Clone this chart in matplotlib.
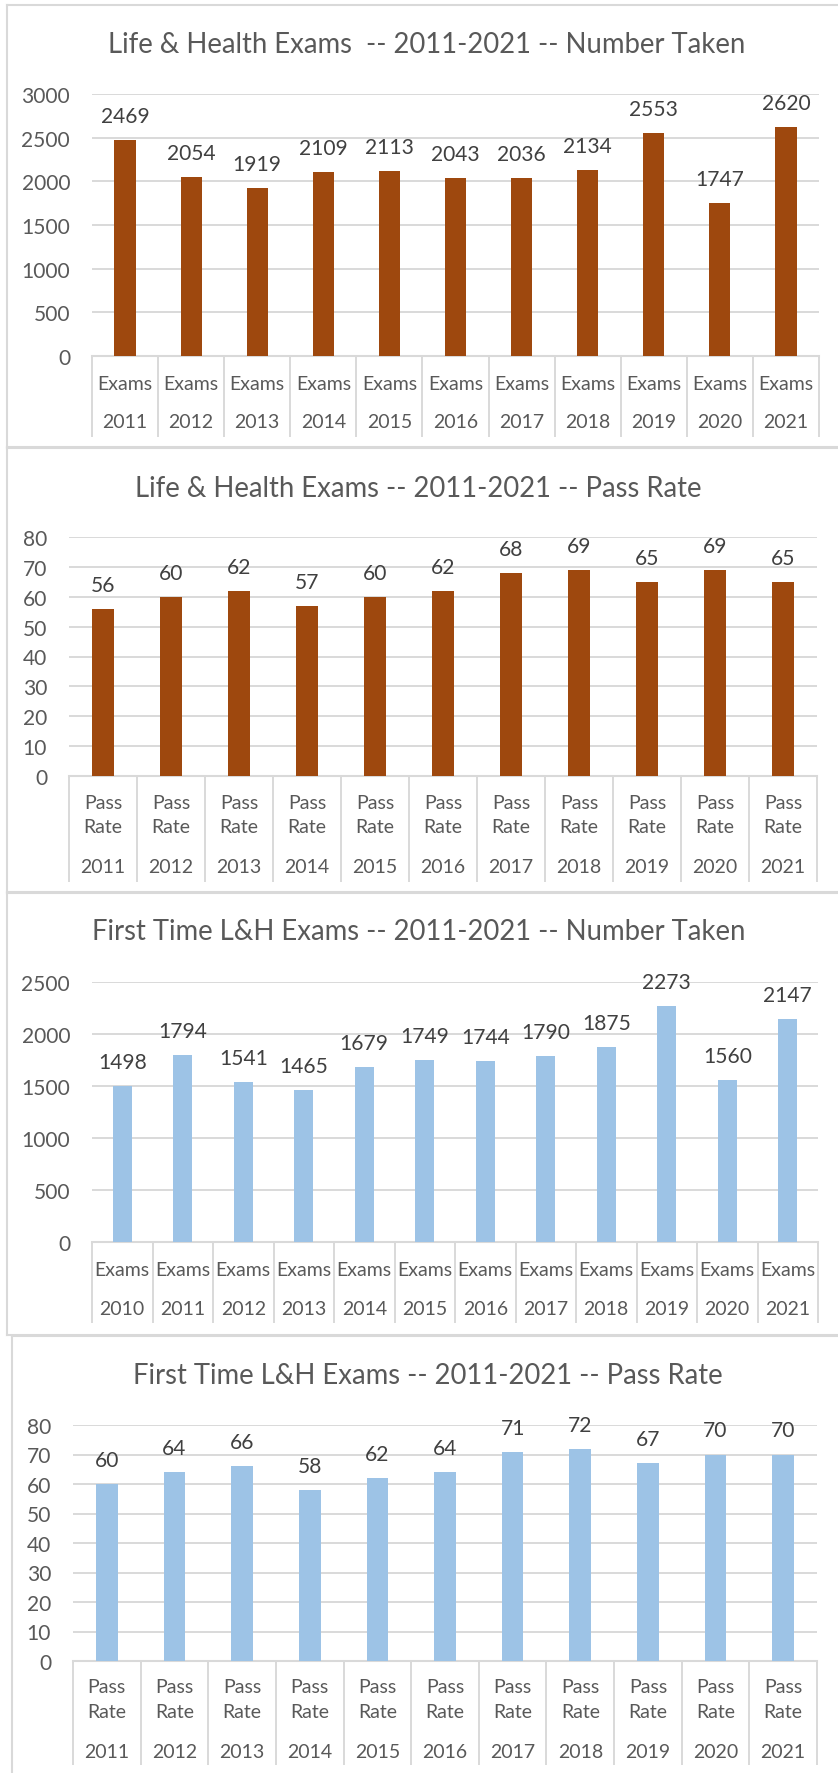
import matplotlib
matplotlib.use("Agg")
import matplotlib.pyplot as plt
from matplotlib.lines import Line2D
from matplotlib.transforms import blended_transform_factory

W, H = 838, 1774

lh_years = ["2011", "2012", "2013", "2014", "2015", "2016", "2017", "2018", "2019", "2020", "2021"]
lh_taken = [2469, 2054, 1919, 2109, 2113, 2043, 2036, 2134, 2553, 1747, 2620]
lh_pass = [56, 60, 62, 57, 60, 62, 68, 69, 65, 69, 65]

ft_taken_years = ["2010", "2011", "2012", "2013", "2014", "2015", "2016", "2017", "2018", "2019", "2020", "2021"]
ft_taken = [1498, 1794, 1541, 1465, 1679, 1749, 1744, 1790, 1875, 2273, 1560, 2147]
ft_pass_years = ["2011", "2012", "2013", "2014", "2015", "2016", "2017", "2018", "2019", "2020", "2021"]
ft_pass = [60, 64, 66, 58, 62, 64, 71, 72, 67, 70, 70]

brown = "#9E480E"
blue = "#9DC3E6"
grid_c = "#D9D9D9"
txt_c = "#595959"
lbl_c = "#404040"

plt.rcParams['font.family'] = ['Lato', 'DejaVu Sans']

fig = plt.figure(figsize=(W / 100, H / 100), dpi=100)


def px(v):
    return v * 72 / 100


def hline(x0, x1, y, lw=1.5):
    fig.add_artist(Line2D([x0 / W, x1 / W], [1 - y / H, 1 - y / H], color=grid_c, lw=lw,
                          transform=fig.transFigure))


def vline(x, y0, y1, lw=1.5):
    fig.add_artist(Line2D([x / W, x / W], [1 - y0 / H, 1 - y1 / H], color=grid_c, lw=lw,
                          transform=fig.transFigure))


def panel(title, tx, ty, box, plot, values, years, yticks, color, rows, sep_bottom):
    bx0, by0, by1 = box
    hline(bx0, W + 5, by0)
    hline(bx0, W + 5, by1)
    vline(bx0, by0, by1)
    fig.text(tx / W, 1 - ty / H, title, ha="center", va="center", fontsize=px(27.5), color=txt_c)

    l, r, t, b = plot
    ax = fig.add_axes([l / W, 1 - b / H, (r - l) / W, (b - t) / H])
    n = len(values)
    x = list(range(n))
    ax.bar(x, values, width=0.32, color=color, zorder=3)
    ax.set_xlim(-0.5, n - 0.5)
    ax.set_ylim(yticks[0], yticks[-1])
    ax.set_yticks(yticks)
    ax.set_yticklabels([str(v) for v in yticks])
    ax.tick_params(axis="y", length=0, pad=px(22), labelsize=px(21), labelcolor=txt_c)
    ax.set_xticks([])
    ax.grid(axis="y", color=grid_c, lw=1.4, zorder=0)
    for s in ["top", "right", "left"]:
        ax.spines[s].set_visible(False)
    ax.spines["bottom"].set_color(grid_c)
    ax.spines["bottom"].set_linewidth(1.5)
    for xi, v in zip(x, values):
        ax.annotate(str(v), (xi, v), xytext=(0, px(24)), textcoords="offset points",
                    ha="center", va="center", fontsize=px(21), color=lbl_c, zorder=4)

    # two-level category labels with cell separators
    hpx = b - t
    tr = blended_transform_factory(ax.transData, ax.transAxes)
    for xi, yr in zip(x, years):
        for ry, txt in rows:
            s = yr if txt is None else txt
            ax.text(xi, (b - ry) / hpx, s, transform=tr, ha="center", va="center",
                    fontsize=px(19.5), color=txt_c, clip_on=False)
    for k in range(n + 1):
        ax.plot([k - 0.5, k - 0.5], [0, (b - sep_bottom) / hpx], transform=tr,
                color=grid_c, lw=1.4, clip_on=False)
    return ax


panel("Life & Health Exams  -- 2011-2021 -- Number Taken", 427, 45,
      (7, 6, 448), (92, 819, 95, 357), lh_taken, lh_years,
      [0, 500, 1000, 1500, 2000, 2500, 3000], brown,
      [(384, "Exams"), (423, None)], 437)

panel("Life & Health Exams -- 2011-2021 -- Pass Rate", 418, 489,
      (7, 449, 893), (69, 817, 538, 777), lh_pass, lh_years,
      [0, 10, 20, 30, 40, 50, 60, 70, 80], brown,
      [(804, "Pass"), (828, "Rate"), (868, None)], 882)

panel("First Time L&H Exams -- 2011-2021 -- Number Taken", 419, 932,
      (7, 894, 1336), (92, 818, 983, 1243), ft_taken, ft_taken_years,
      [0, 500, 1000, 1500, 2000, 2500], blue,
      [(1270, "Exams"), (1310, None)], 1323)

panel("First Time L&H Exams -- 2011-2021 -- Pass Rate", 428, 1376,
      (12, 1337, H + 5), (73, 817, 1426, 1662), ft_pass, ft_pass_years,
      [0, 10, 20, 30, 40, 50, 60, 70, 80], blue,
      [(1688, "Pass"), (1713, "Rate"), (1753, None)], 1765)

fig.savefig("out.png", dpi=100, facecolor="white")
